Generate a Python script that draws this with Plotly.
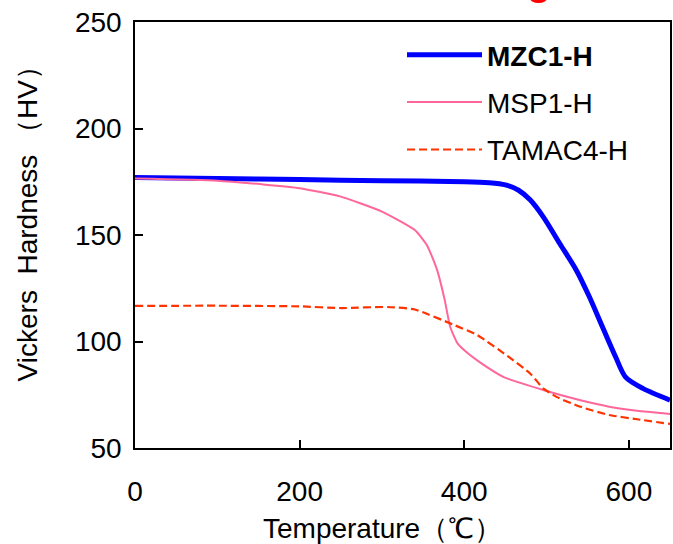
import plotly.graph_objects as go

# ---- data ----
mzc_temp = [0, 100, 200, 300, 400, 430, 450, 466, 480, 496, 516, 536, 552, 568, 584, 596, 617, 650]
mzc_hv = [177, 176.5, 176, 175.5, 175, 174.5, 173.5, 171, 166.5, 158.5, 146, 133.6, 121, 106.8, 92.7, 83.3, 78, 72.5]

msp_temp = [0, 100, 154, 200, 250, 300, 340, 355, 367, 376, 383, 392, 404, 420, 448, 496, 540, 576, 610, 650]
msp_hv = [176.5, 175.5, 173.8, 172, 168, 161, 152.3, 145, 133.6, 120, 106.8, 99, 94.6, 90, 83.3, 77.2, 72.5, 69.4, 67.5, 66]

tamac_temp = [0, 100, 200, 251, 307, 340, 388, 416, 455, 480, 496, 512, 540, 576, 610, 650]
tamac_hv = [116.7, 116.8, 116.5, 115.7, 116.2, 115, 107.7, 103, 92.5, 85, 78, 74, 69.5, 65.5, 63.5, 61.3]

x_ticks = [0, 200, 400, 600]
y_ticks = [50, 100, 150, 200, 250]

FONT = "Liberation Sans, Arial, sans-serif"

W, H = 673, 544
PX0, PX1, PY0, PY1 = 135, 672, 22, 448
pw, ph = PX1 - PX0, PY1 - PY0

fig = go.Figure()
fig.add_trace(go.Scatter(x=mzc_temp, y=mzc_hv, mode="lines", name="<b>MZC1-H</b>",
                         line=dict(color="#0000FF", width=5, shape="spline", smoothing=0.8),
                         legendgroup="a"))
fig.add_trace(go.Scatter(x=msp_temp, y=msp_hv, mode="lines", name="MSP1-H",
                         line=dict(color="#FF6699", width=2, shape="spline", smoothing=0.5),
                         legendgroup="b"))
fig.add_trace(go.Scatter(x=tamac_temp, y=tamac_hv, mode="lines", name="TAMAC4-H",
                         line=dict(color="#FF3300", width=2.2, dash="8px,4px", shape="spline", smoothing=0.5),
                         legendgroup="c"))

axis_common = dict(showgrid=False, zeroline=False, showline=True, linecolor="black", linewidth=1.5,
                   mirror=True, ticks="inside", ticklen=8, tickwidth=1.5, tickcolor="black",
                   ticklabeloverflow="allow",
                   tickfont=dict(family=FONT, size=28, color="black"))

fig.update_xaxes(range=[0, 650], tickvals=x_ticks, ticklabelstandoff=18, **axis_common)
fig.update_yaxes(range=[50, 250], tickvals=y_ticks, ticklabelstandoff=6, **axis_common)

fig.add_annotation(text="Temperature（℃）", xref="paper", yref="paper",
                   x=(383 - PX0) / pw, y=-(528 - PY1) / ph,
                   showarrow=False, xanchor="center", yanchor="middle",
                   font=dict(family=FONT, size=28, color="black"))
fig.add_annotation(text="Vickers  Hardness （HV）", xref="paper", yref="paper",
                   x=-(PX0 - 28) / pw, y=(PY1 - 217) / ph,
                   showarrow=False, xanchor="center", yanchor="middle", textangle=-90,
                   font=dict(family=FONT, size=28, color="black"))

# red fragment at the top edge
fig.add_shape(type="circle", xref="paper", yref="paper",
              x0=(531 - PX0) / pw, x1=(549 - PX0) / pw, y0=1 + 19 / ph, y1=1 + 30 / ph,
              fillcolor="#FF0000", line=dict(width=0))

fig.update_layout(
    width=W, height=H,
    margin=dict(l=PX0, r=W - PX1, t=PY0, b=H - PY1),
    plot_bgcolor="white", paper_bgcolor="white",
    font=dict(family=FONT, size=28, color="black"),
    showlegend=True,
    legend=dict(x=(403 - PX0) / pw, y=1 - (30 - PY0) / ph, xanchor="left", yanchor="top",
                bgcolor="rgba(0,0,0,0)",
                font=dict(family=FONT, size=28, color="black"), tracegroupgap=8, itemwidth=75),
)

post = (
    "document.documentElement.style.overflow='hidden';"
    "document.body.style.margin='0';document.body.style.overflow='hidden';"
    "var gd=document.getElementsByClassName('plotly-graph-div')[0];"
    "Plotly.relayout(gd,{width:%d,height:%d});" % (W, H)
)

fig.write_html("out.html", post_script=post, config={"displayModeBar": False})
